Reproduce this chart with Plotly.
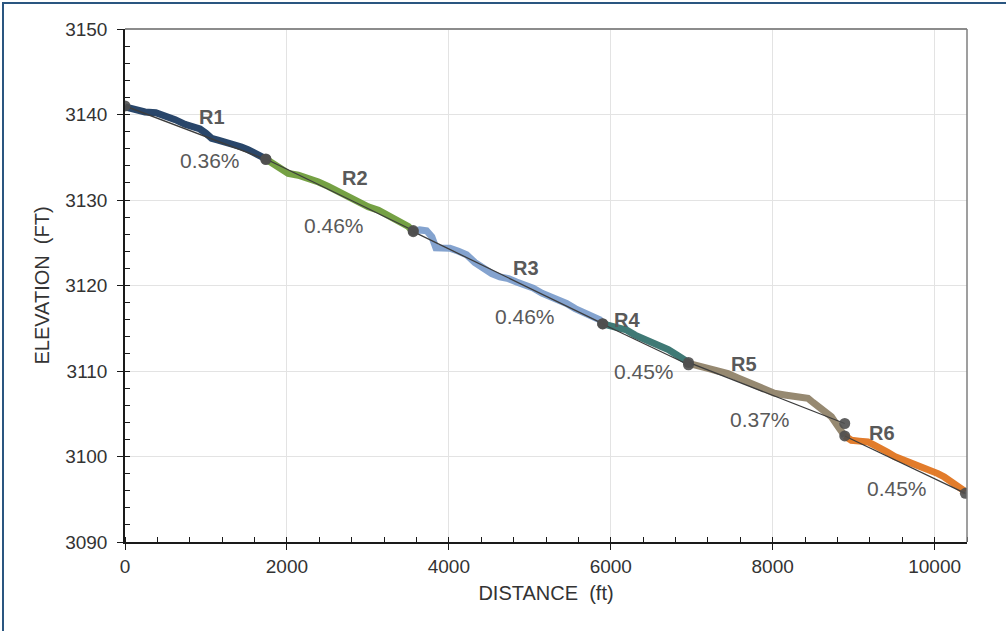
import plotly.graph_objects as go

# ---- reach summary -------------------------------------------------------
reaches = ["R1", "R2", "R3", "R4", "R5", "R6"]
slopes_pct = [0.36, 0.46, 0.46, 0.45, 0.37, 0.45]
grade_start_x = [0, 1740, 3560, 5900, 6960, 8890]
grade_end_x = [1740, 3560, 5900, 6960, 8890, 10380]
grade_start_elev = [3141.0, 3134.8, 3126.3, 3115.5, 3111.0, 3102.4]

# ---- surveyed thalweg profile, one list pair per reach --------------------
r1_dist = [0, 120, 247, 380, 494, 620, 741, 830, 926, 1000, 1070, 1150, 1235, 1340, 1440, 1520, 1605, 1740]
r1_elev = [3140.9, 3140.6, 3140.3, 3140.2, 3139.9, 3139.4, 3138.85, 3138.6, 3138.3, 3137.8, 3137.2, 3137.0, 3136.8, 3136.5, 3136.2, 3135.9, 3135.5, 3134.8]

r2_dist = [1740, 1880, 2016, 2140, 2263, 2390, 2510, 2630, 2757, 2880, 3004, 3130, 3251, 3340, 3416, 3500, 3560]
r2_elev = [3134.8, 3133.9, 3133.1, 3132.9, 3132.6, 3132.1, 3131.6, 3131.0, 3130.4, 3129.9, 3129.2, 3128.8, 3128.2, 3127.9, 3127.5, 3126.9, 3126.3]

r3_dist = [3560, 3640, 3725, 3790, 3840, 3900, 4012, 4120, 4219, 4320, 4423, 4530, 4630, 4736, 4836, 4940, 5041, 5150, 5247, 5350, 5453, 5560, 5658, 5760, 5864, 5900]
r3_elev = [3126.3, 3126.5, 3126.4, 3125.7, 3124.4, 3124.4, 3124.35, 3124.0, 3123.6, 3122.7, 3122.0, 3121.4, 3121.0, 3120.8, 3120.4, 3120.1, 3119.7, 3119.1, 3118.7, 3118.4, 3117.9, 3117.3, 3116.9, 3116.5, 3116.0, 3115.5]

r4_dist = [5900, 6050, 6194, 6300, 6399, 6500, 6605, 6710, 6811, 6960]
r4_elev = [3115.5, 3115.1, 3114.8, 3114.2, 3113.8, 3113.4, 3112.8, 3112.5, 3111.9, 3111.0]

r5_dist = [6960, 7080, 7201, 7320, 7448, 7570, 7695, 7800, 7901, 8020, 8148, 8300, 8436, 8500, 8559, 8640, 8725, 8807, 8848, 8890]
r5_elev = [3110.9, 3110.5, 3110.3, 3110.0, 3109.7, 3109.2, 3108.75, 3108.2, 3107.8, 3107.4, 3107.2, 3107.0, 3106.8, 3106.3, 3105.8, 3105.2, 3104.65, 3103.5, 3102.8, 3102.4]

r6_dist = [8890, 8972, 9070, 9177, 9260, 9342, 9420, 9506, 9590, 9670, 9770, 9877, 9960, 10041, 10120, 10206, 10290, 10380]
r6_elev = [3102.4, 3101.9, 3101.8, 3101.7, 3101.3, 3101.0, 3100.5, 3100.0, 3099.7, 3099.4, 3099.0, 3098.6, 3098.4, 3098.0, 3097.6, 3097.05, 3096.5, 3095.9]

profile_dist = [r1_dist, r2_dist, r3_dist, r4_dist, r5_dist, r6_dist]
profile_elev = [r1_elev, r2_elev, r3_elev, r4_elev, r5_elev, r6_elev]

# ---- axis ticks ----------------------------------------------------------
x_ticks = [0, 2000, 4000, 6000, 8000, 10000]
y_ticks = [3090, 3100, 3110, 3120, 3130, 3140, 3150]

# label anchors (data units)
name_x = [1074, 2840, 4950, 6198, 7642, 9346]
name_y = [3139.7, 3132.6, 3122.0, 3116.0, 3110.8, 3102.7]
pct_x = [1050, 2580, 4938, 6407, 7840, 9531]
pct_y = [3134.6, 3127.0, 3116.4, 3109.9, 3104.3, 3096.3]

reach_colors = ["#17375E", "#6A9A35", "#7A9CCB", "#2F6E6A", "#8E7F66", "#E0711A"]

fig = go.Figure()

for i, name in enumerate(reaches):
    fig.add_trace(go.Scatter(
        x=profile_dist[i], y=profile_elev[i], mode="lines",
        line=dict(color=reach_colors[i], width=7),
        opacity=0.92, showlegend=False, hoverinfo="skip",
    ))

for i, name in enumerate(reaches):
    x0, x1 = grade_start_x[i], grade_end_x[i]
    y0 = grade_start_elev[i]
    y1 = y0 - slopes_pct[i] / 100.0 * (x1 - x0)
    fig.add_trace(go.Scatter(
        x=[x0, x1], y=[y0, y1], mode="lines+markers",
        line=dict(color="#3C3C3C", width=1.3),
        marker=dict(color="#4F4F4F", size=11, opacity=0.9),
        showlegend=False, hoverinfo="skip",
    ))

label_color = "#595959"
for i, name in enumerate(reaches):
    fig.add_annotation(x=name_x[i], y=name_y[i], text="<b>%s</b>" % name,
                       showarrow=False, xanchor="center", yanchor="middle",
                       font=dict(family="Liberation Sans, Arial", size=20, color=label_color))
    fig.add_annotation(x=pct_x[i], y=pct_y[i], text="%.2f%%" % slopes_pct[i],
                       showarrow=False, xanchor="center", yanchor="middle",
                       font=dict(family="Liberation Sans, Arial", size=21, color=label_color))

# page geometry in pixels
W, H = 1006, 631
L, R, T, B = 125, 39, 29, 89
pw, ph = W - L - R, H - T - B


def px_x(p):
    return (p - L) / pw


def px_y(p):
    return (H - B - p) / ph


# outer frame
fig.add_shape(type="rect", xref="paper", yref="paper",
              x0=px_x(3), x1=px_x(1012), y0=px_y(3), y1=px_y(640),
              line=dict(color="#2A5680", width=2), fillcolor="rgba(0,0,0,0)", layer="below")
# top and right plot border
fig.add_shape(type="line", xref="paper", yref="paper", x0=0, x1=1, y0=1, y1=1,
              line=dict(color="#8C8C8C", width=2))
fig.add_shape(type="line", xref="paper", yref="paper", x0=1, x1=1, y0=0, y1=1,
              line=dict(color="#7F7F7F", width=1.5))

tick_font = dict(family="Liberation Sans, Arial", size=19, color="#333333")
title_font = dict(family="Liberation Sans, Arial", size=20, color="#333333")

fig.update_layout(
    width=W, height=H,
    margin=dict(l=L, r=R, t=T, b=B, autoexpand=False),
    paper_bgcolor="white", plot_bgcolor="white",
    xaxis=dict(
        range=[0, 10400], tickvals=x_ticks, ticktext=[str(v) for v in x_ticks],
        showgrid=True, gridcolor="#E3E3E3", gridwidth=1,
        showline=True, linecolor="#1A1A1A", linewidth=1.5,
        ticks="outside", ticklen=6, tickcolor="#1A1A1A", tickwidth=1.3,
        minor=dict(dtick=400, ticks="inside", ticklen=5, tickcolor="#1A1A1A", tickwidth=1, showgrid=False),
        tickfont=tick_font, zeroline=False,
        title=dict(text="DISTANCE  (ft)", font=title_font, standoff=10),
    ),
    yaxis=dict(
        range=[3090, 3150], tickvals=y_ticks, ticktext=[str(v) for v in y_ticks],
        showgrid=True, gridcolor="#E3E3E3", gridwidth=1,
        showline=True, linecolor="#1A1A1A", linewidth=1.5,
        ticks="outside", ticklen=6, tickcolor="#1A1A1A", tickwidth=1.3,
        minor=dict(dtick=2, ticks="inside", ticklen=5, tickcolor="#1A1A1A", tickwidth=1, showgrid=False),
        tickfont=tick_font, zeroline=False, ticklabelstandoff=6,
        title=dict(text="ELEVATION  (FT)", font=title_font, standoff=10),
    ),
)

fig.write_html("out.html")
